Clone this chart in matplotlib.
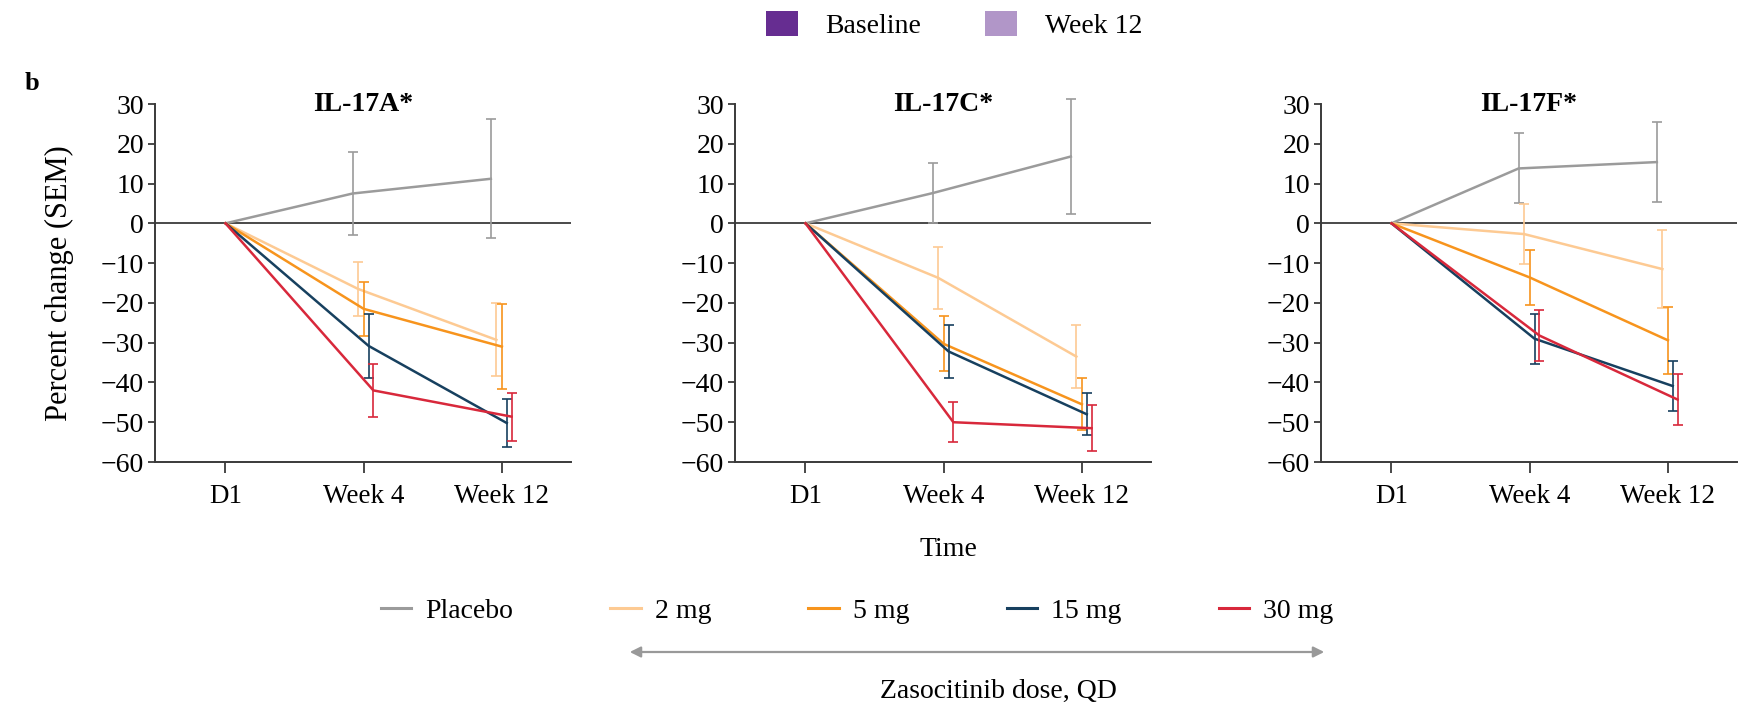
import matplotlib
matplotlib.use("Agg")
import matplotlib.pyplot as plt
from matplotlib.patches import Patch, FancyArrowPatch
from matplotlib.lines import Line2D

plt.rcParams['font.family'] = ['Liberation Serif', 'DejaVu Serif']

# Data (percent change from baseline, SEM)
timepoints = ['D1', 'Week 4', 'Week 12']
doses = ['Placebo', '2 mg', '5 mg', '15 mg', '30 mg']
panels = ['IL-17A*', 'IL-17C*', 'IL-17F*']

# rows: Placebo, 2 mg, 5 mg, 15 mg, 30 mg ; cols: D1, Week 4, Week 12
il17a_mean = [[0, 7.5, 11.2], [0, -16.5, -29.3], [0, -21.5, -31.0], [0, -30.8, -50.2], [0, -42.0, -48.6]]
il17a_sem = [[0, 10.5, 15.0], [0, 6.7, 9.2], [0, 6.8, 10.6], [0, 8.0, 6.0], [0, 6.6, 6.0]]

il17c_mean = [[0, 7.6, 16.8], [0, -13.7, -33.5], [0, -30.3, -45.5], [0, -32.2, -48.0], [0, -50.0, -51.5]]
il17c_sem = [[0, 7.6, 14.5], [0, 7.8, 8.0], [0, 6.9, 6.5], [0, 6.6, 5.3], [0, 5.0, 5.8]]

il17f_mean = [[0, 13.8, 15.4], [0, -2.7, -11.5], [0, -13.6, -29.4], [0, -29.0, -40.9], [0, -28.2, -44.3]]
il17f_sem = [[0, 8.8, 10.0], [0, 7.6, 9.9], [0, 7.0, 8.4], [0, 6.3, 6.2], [0, 6.5, 6.5]]

colors = ['#9b9b9b', '#fdca93', '#f7941d', '#17405f', '#d8283b']
dodge = [-0.08, -0.04, 0.0, 0.035, 0.07]

means = [il17a_mean, il17c_mean, il17f_mean]
sems = [il17a_sem, il17c_sem, il17f_sem]

W, H = 1742, 710
fig = plt.figure(figsize=(W / 100, H / 100), dpi=100)

axis_color = '#3a3a3a'
lefts = [155, 735, 1321]
for k, left in enumerate(lefts):
    ax = fig.add_axes([left / W, 1 - 462 / H, 416 / W, 358 / H])
    ax.axhline(0, color=axis_color, lw=1.3, zorder=1)
    for i, dose in enumerate(doses):
        xs = [0, 1 + dodge[i], 2 + dodge[i]]
        ax.plot(xs, means[k][i], color=colors[i], lw=1.8, zorder=2 + i)
        eb = ax.errorbar(xs[1:], means[k][i][1:], yerr=sems[k][i][1:], fmt='none',
                         ecolor=colors[i], elinewidth=1.2, capsize=3.5, capthick=1.2, zorder=2 + i)
        for art in eb.lines[1] + eb.lines[2]:
            art.set_clip_on(False)
    ax.set_xlim(-0.51, 2.5)
    ax.set_ylim(-60, 30)
    ax.set_yticks(range(-60, 31, 10))
    ax.set_xticks(range(len(timepoints)))
    ax.set_xticklabels(timepoints)
    for s in ['top', 'right']:
        ax.spines[s].set_visible(False)
    for s in ['left', 'bottom']:
        ax.spines[s].set_color(axis_color)
        ax.spines[s].set_linewidth(1.4)
    ax.tick_params(axis='y', labelsize=20, length=5, width=1.3, color=axis_color, pad=3)
    ax.tick_params(axis='x', labelsize=19.5, length=8, width=1.3, color=axis_color, pad=8)
    ax.text(0.5, 0.981, panels[k], transform=ax.transAxes, ha='center', va='baseline',
            fontsize=20, fontweight='bold')
    if k == 0:
        ax.set_ylabel('Percent change (SEM)', fontsize=22, labelpad=19)

fig.text(25 / W, 1 - 90 / H, 'b', fontsize=19, fontweight='bold', va='baseline')
fig.text(948 / W, 1 - 549 / H, 'Time', fontsize=20, ha='center', va='center')

# top legend (Baseline / Week 12)
top_handles = [Patch(facecolor='#662d91', edgecolor='none'), Patch(facecolor='#b196c8', edgecolor='none')]
fig.legend(top_handles, ['Baseline', 'Week 12'], loc='center', bbox_to_anchor=(954 / W, 1 - 25 / H),
           ncol=2, frameon=False, fontsize=20, handlelength=1.15, handleheight=1.0,
           handletextpad=1.0, columnspacing=2.3)

# dose legend
dose_handles = [Line2D([0], [0], color=c, lw=2.2) for c in colors]
fig.legend(dose_handles, doses, loc='center', bbox_to_anchor=(857 / W, 1 - 611 / H),
           ncol=5, frameon=False, fontsize=20, handlelength=1.1, handletextpad=0.5,
           columnspacing=3.5)

fig.add_artist(FancyArrowPatch(
    (627 / W, 1 - 652 / H), (1327 / W, 1 - 652 / H), transform=fig.transFigure,
    arrowstyle='<|-|>', mutation_scale=16, color='#999999', lw=1.6))
fig.text(998 / W, 1 - 691 / H, 'Zasocitinib dose, QD', fontsize=20, ha='center', va='center')

fig.savefig('out.png', dpi=100)
